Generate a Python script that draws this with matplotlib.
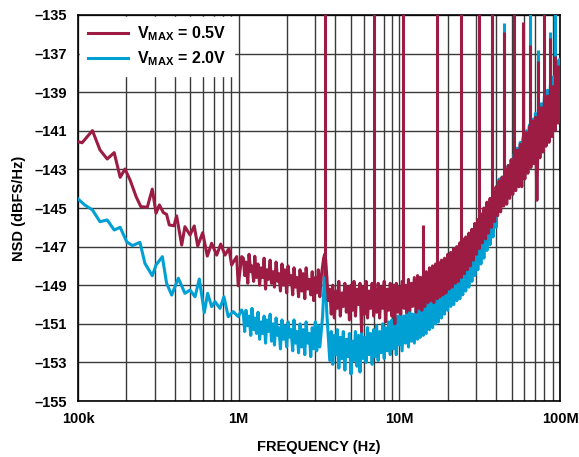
import numpy as np
import matplotlib
matplotlib.use("Agg")
import matplotlib.pyplot as plt
from matplotlib.ticker import LogLocator, NullFormatter

plt.rcParams['font.family'] = ['Liberation Sans', 'DejaVu Sans']
plt.rcParams['font.weight'] = 'bold'
plt.rcParams['mathtext.fontset'] = 'custom'
plt.rcParams['mathtext.rm'] = 'Liberation Sans:bold'
plt.rcParams['mathtext.bf'] = 'Liberation Sans:bold'
plt.rcParams['mathtext.it'] = 'Liberation Sans:bold'

# low frequency part (MHz, dBFS/Hz)
red_f_low = [0.100, 0.106, 0.123, 0.137, 0.152, 0.168, 0.183, 0.196, 0.211, 0.230,
             0.246, 0.270, 0.290, 0.306, 0.321, 0.340, 0.356, 0.370, 0.396, 0.411,
             0.442, 0.463, 0.498, 0.529, 0.556, 0.597, 0.638, 0.679, 0.730, 0.773,
             0.822, 0.871, 0.904, 0.972, 0.994, 1.044]
red_db_low = [-141.56, -141.62, -140.99, -141.99, -142.46, -142.13, -143.41, -142.98, -143.55, -144.41,
              -144.93, -144.96, -144.02, -145.27, -144.84, -145.24, -145.33, -145.88, -145.92, -145.41,
              -146.92, -145.97, -146.40, -145.93, -146.97, -146.28, -147.49, -146.83, -147.44, -146.87,
              -147.44, -147.09, -147.95, -147.52, -149.03, -147.52]

blue_f_low = [0.100, 0.110, 0.123, 0.137, 0.152, 0.168, 0.183, 0.201, 0.218, 0.243,
              0.261, 0.290, 0.306, 0.335, 0.356, 0.383, 0.421, 0.463, 0.498, 0.535,
              0.569, 0.611, 0.641, 0.679, 0.712, 0.765, 0.810, 0.861, 0.925, 0.994, 1.044]
blue_db_low = [-144.53, -144.84, -145.10, -145.71, -145.62, -146.14, -146.00, -146.75, -146.95, -146.78,
               -147.87, -148.51, -147.95, -147.52, -148.90, -149.51, -148.64, -149.42, -149.25, -149.60,
               -148.68, -150.42, -149.42, -150.11, -149.85, -150.20, -149.60, -150.63, -150.37, -150.63,
               -150.28]

# dense part above 1 MHz, same bins for both traces (MHz)
hf_f = [1.07, 1.09, 1.11, 1.14, 1.16, 1.19, 1.21, 1.24, 1.26, 1.29,
        1.32, 1.35, 1.38, 1.41, 1.44, 1.47, 1.50, 1.53, 1.57, 1.60,
        1.64, 1.67, 1.71, 1.75, 1.78, 1.82, 1.86, 1.90, 1.94, 1.99,
        2.03, 2.08, 2.12, 2.17, 2.21, 2.26, 2.31, 2.36, 2.41, 2.47,
        2.52, 2.58, 2.63, 2.69, 2.75, 2.81, 2.87, 2.93, 3.00, 3.06,
        3.13, 3.20, 3.27, 3.33, 3.38, 3.43, 3.48, 3.54, 3.61, 3.69,
        3.77, 3.85, 3.94, 4.02, 4.11, 4.20, 4.29, 4.39, 4.48, 4.58,
        4.68, 4.78, 4.89, 5.00, 5.11, 5.22, 5.33, 5.45, 5.57, 5.69,
        5.82, 5.94, 6.07, 6.21, 6.34, 6.48, 6.62, 6.77, 6.92, 7.07,
        7.22, 7.38, 7.54, 7.71, 7.88, 8.05, 8.23, 8.41, 8.59, 8.78,
        8.97, 9.17, 9.37, 9.57, 9.78, 10.0, 10.2, 10.4, 10.7, 10.9,
        11.1, 11.4, 11.6, 11.9, 12.1, 12.4, 12.7, 13.0, 13.2, 13.5,
        13.8, 14.1, 14.4, 14.7, 15.1, 15.4, 15.7, 16.1, 16.4, 16.8,
        17.2, 17.5, 17.9, 18.3, 18.7, 19.1, 19.5, 20.0, 20.4, 20.9,
        21.3, 21.8, 22.3, 22.8, 23.3, 23.8, 24.3, 24.8, 25.4, 25.9,
        26.5, 27.1, 27.7, 28.3, 28.9, 29.5, 30.2, 30.8, 31.5, 32.2,
        32.9, 33.6, 34.4, 35.1, 35.9, 36.7, 37.5, 38.3, 39.2, 40.0,
        40.9, 41.8, 42.7, 43.6, 44.6, 45.6, 46.6, 47.6, 48.6, 49.7,
        50.8, 51.9, 53.0, 54.2, 55.4, 56.6, 57.8, 59.1, 60.4, 61.7,
        63.1, 64.5, 65.9, 67.3, 68.8, 70.3, 71.8, 73.4, 75.0, 76.6,
        78.3, 80.0, 81.8, 83.6, 85.4, 87.2, 89.1, 91.1, 93.1, 95.1,
        97.2, 99.3, 100.0]

# VMAX = 0.5V
red_db_hf = [-147.6, -148.5, -147.8, -148.9, -147.4, -148.3, -148.0, -148.8, -147.5, -148.6,
             -147.9, -149.0, -148.1, -148.6, -147.6, -149.2, -148.2, -148.7, -147.7, -148.9,
             -148.3, -149.1, -147.8, -148.8, -148.4, -149.3, -147.9, -149.0, -148.2, -149.4,
             -148.0, -148.9, -148.5, -149.5, -148.1, -149.1, -148.6, -149.6, -148.2, -149.3,
             -148.4, -149.7, -148.1, -149.2, -148.7, -149.5, -148.3, -149.8, -148.6, -149.4,
             -148.2, -149.6, -148.5, -148.0, -147.6, -147.4, -147.7, -148.6, -149.8, -149.2,
             -150.5, -149.0, -150.7, -149.3, -150.2, -148.8, -150.6, -149.4, -150.1, -148.9,
             -150.4, -149.1, -150.8, -149.0, -150.3, -148.8, -150.6, -149.2, -150.0, -148.9,
             -151.4, -149.1, -150.5, -148.8, -150.7, -149.3, -150.2, -148.9, -150.6, -149.2,
             -150.4, -148.9, -150.7, -149.1, -150.2, -148.8, -150.9, -149.2, -150.3, -148.9,
             -150.6, -149.0, -151.0, -148.9, -150.4, -149.1, -150.5, -148.8, -150.2, -149.0,
             -150.4, -148.7, -150.3, -148.9, -150.1, -148.6, -150.4, -148.5, -150.2, -148.6,
             -150.3, -148.5, -150.1, -148.3, -149.9, -148.1, -149.8, -148.0, -149.9, -147.9,
             -149.7, -147.8, -149.6, -147.7, -149.5, -147.6, -149.4, -147.4, -149.2, -147.3,
             -149.1, -147.1, -148.9, -147.0, -148.8, -146.8, -148.6, -146.6, -148.4, -146.5,
             -148.2, -146.3, -148.0, -146.1, -147.7, -145.8, -147.4, -145.6, -147.1, -145.3,
             -146.8, -145.0, -146.6, -144.7, -146.3, -144.5, -146.0, -144.2, -145.7, -143.9,
             -145.4, -143.6, -145.2, -143.4, -144.9, -143.0, -144.8, -142.8, -144.5, -142.5,
             -144.3, -142.3, -144.1, -142.0, -143.9, -141.7, -143.9, -141.4, -143.5, -141.1,
             -143.2, -140.8, -142.9, -140.5, -142.7, -140.3, -144.6, -140.1, -142.4, -139.8,
             -142.1, -139.5, -141.8, -139.2, -141.6, -138.9, -141.3, -138.7, -141.0, -138.3,
             -140.6, -137.8, -139.2]

# VMAX = 2.0V
blue_db_hf = [-150.5, -151.4, -150.3, -151.1, -150.6, -151.6, -150.2, -151.3, -150.7, -151.5,
              -150.4, -151.8, -150.9, -151.5, -150.6, -152.0, -150.8, -151.4, -150.5, -151.9,
              -151.0, -152.1, -150.7, -151.6, -151.2, -152.3, -150.8, -151.8, -151.1, -152.2,
              -150.9, -151.7, -151.3, -152.4, -150.8, -152.0, -151.4, -152.5, -151.0, -152.2,
              -151.3, -152.6, -150.9, -152.0, -151.5, -152.7, -151.2, -152.3, -150.9, -152.4,
              -151.1, -152.2, -151.3, -150.6, -149.4, -147.6, -149.1, -150.5, -151.6, -152.9,
              -151.4, -153.1, -151.6, -152.6, -151.3, -153.3, -151.7, -152.8, -151.4, -153.4,
              -151.8, -152.7, -151.5, -153.6, -151.9, -152.9, -151.4, -153.2, -151.6, -153.5,
              -151.3, -152.8, -151.7, -153.0, -151.2, -152.6, -151.5, -153.1, -151.3, -152.7,
              -151.1, -152.9, -151.4, -152.5, -151.0, -152.8, -151.2, -152.4, -150.9, -152.6,
              -150.8, -152.3, -150.7, -152.6, -150.6, -152.1, -150.5, -152.4, -150.6, -152.0,
              -150.4, -152.2, -150.3, -151.9, -150.5, -152.0, -150.2, -151.8, -150.1, -151.7,
              -150.0, -151.6, -149.9, -151.5, -149.7, -151.3, -149.6, -151.2, -149.4, -151.0,
              -149.3, -150.9, -149.1, -150.7, -149.0, -150.5, -148.8, -150.3, -148.7, -150.1,
              -148.6, -150.0, -148.4, -149.8, -148.3, -149.7, -148.2, -149.5, -148.0, -149.3,
              -147.9, -149.1, -147.6, -148.8, -147.3, -148.5, -147.0, -148.2, -146.7, -147.9,
              -146.4, -147.6, -146.0, -147.2, -145.6, -146.9, -145.2, -146.5, -144.8, -146.0,
              -144.4, -143.5, -144.9, -143.4, -144.5, -143.1, -144.2, -142.8, -143.8, -142.5,
              -143.6, -142.2, -143.3, -141.9, -143.0, -141.6, -142.8, -141.3, -142.4, -141.0,
              -142.2, -140.7, -141.9, -140.4, -141.6, -140.1, -141.3, -139.9, -141.0, -139.6,
              -140.7, -139.2, -140.4, -138.9, -140.1, -138.6, -139.8, -138.2, -139.5, -137.8,
              -139.2, -137.3, -138.8]

# spurs: frequency (MHz), top, and the noise level they rise from
red_spur_f = [3.44, 6.93, 10.5, 13.96, 17.2, 24.3, 31.4, 37.8, 44.9, 51.9,
              59.0, 65.5, 73.1, 79.8, 86.5, 93.2, 97.5]
red_spur_top = [-120, -120, -120, -145.9, -120, -120, -120, -120, -135.9, -120,
                -135.35, -136.55, -137.4, -120, -136.2, -137.1, -137.6]
red_spur_base = [-148.5, -149.5, -149.5, -148.8, -148.5, -147.5, -146.5, -145.5, -144.5, -143.5,
                 -142.5, -141.8, -141.2, -140.5, -139.8, -139.2, -138.8]

blue_spur_f = [37.8, 44.9, 59.0, 65.5, 73.1, 86.5, 93.2, 97.5]
blue_spur_top = [-120, -135.4, -135.5, -120, -136.8, -135.9, -120, -137.3]
blue_spur_base = [-146.0, -144.0, -142.0, -141.0, -140.5, -139.5, -139.0, -138.5]

x_ticks = [1e5, 1e6, 1e7, 1e8]
x_tick_labels = ['100k', '1M', '10M', '100M']
y_ticks = list(range(-155, -134, 2))

red = '#9c1c44'
blue = '#00a0d4'
lw = 2.2

red_f = np.array(red_f_low + hf_f) * 1e6
red_db = np.array(red_db_low + red_db_hf)
blue_f = np.array(blue_f_low + hf_f) * 1e6
blue_db = np.array(blue_db_low + blue_db_hf)

fig = plt.figure(figsize=(5.79, 4.57), dpi=100)
ax = fig.add_axes([0.1347, 0.1225, 0.8325, 0.8447])

# blue underneath, red on top
l_blue, = ax.plot(blue_f, blue_db, color=blue, lw=lw, zorder=3,
                  label='V$_{\\mathrm{MAX}}$ = 2.0V')
ax.vlines(np.array(blue_spur_f) * 1e6, blue_spur_base, blue_spur_top,
          color=blue, lw=lw, zorder=3)
l_red, = ax.plot(red_f, red_db, color=red, lw=lw, zorder=4,
                 label='V$_{\\mathrm{MAX}}$ = 0.5V')
ax.vlines(np.array(red_spur_f) * 1e6, red_spur_base, red_spur_top,
          color=red, lw=lw, zorder=4)

ax.set_xscale('log')
ax.set_xlim(1e5, 1e8)
ax.set_ylim(-155, -135)
ax.set_xticks(x_ticks)
ax.set_xticklabels(x_tick_labels)
ax.xaxis.set_minor_locator(LogLocator(base=10, subs=range(2, 10)))
ax.xaxis.set_minor_formatter(NullFormatter())
ax.set_yticks(y_ticks)
ax.set_yticklabels(['\u2013' + str(abs(v)) for v in y_ticks])
ax.tick_params(which='both', length=0, labelsize=10.5, pad=8)
ax.grid(True, which='both', color='#3a3a3a', lw=1.0)
ax.set_axisbelow(True)
for s in ax.spines.values():
    s.set_linewidth(1.2)

ax.set_xlabel('FREQUENCY (Hz)', fontsize=10.5, fontweight='bold', labelpad=10)
ax.set_ylabel('NSD (dBFS/Hz)', fontsize=10.5, fontweight='bold', labelpad=6)

leg = ax.legend(handles=[l_red, l_blue], loc='upper left', fontsize=11.5,
                frameon=True, fancybox=False, framealpha=1, facecolor='white',
                edgecolor='white', borderaxespad=0.1, borderpad=0.5,
                handlelength=2.5, handletextpad=0.6, labelspacing=0.4)
leg.set_zorder(10)

fig.savefig('out.png', dpi=100)
